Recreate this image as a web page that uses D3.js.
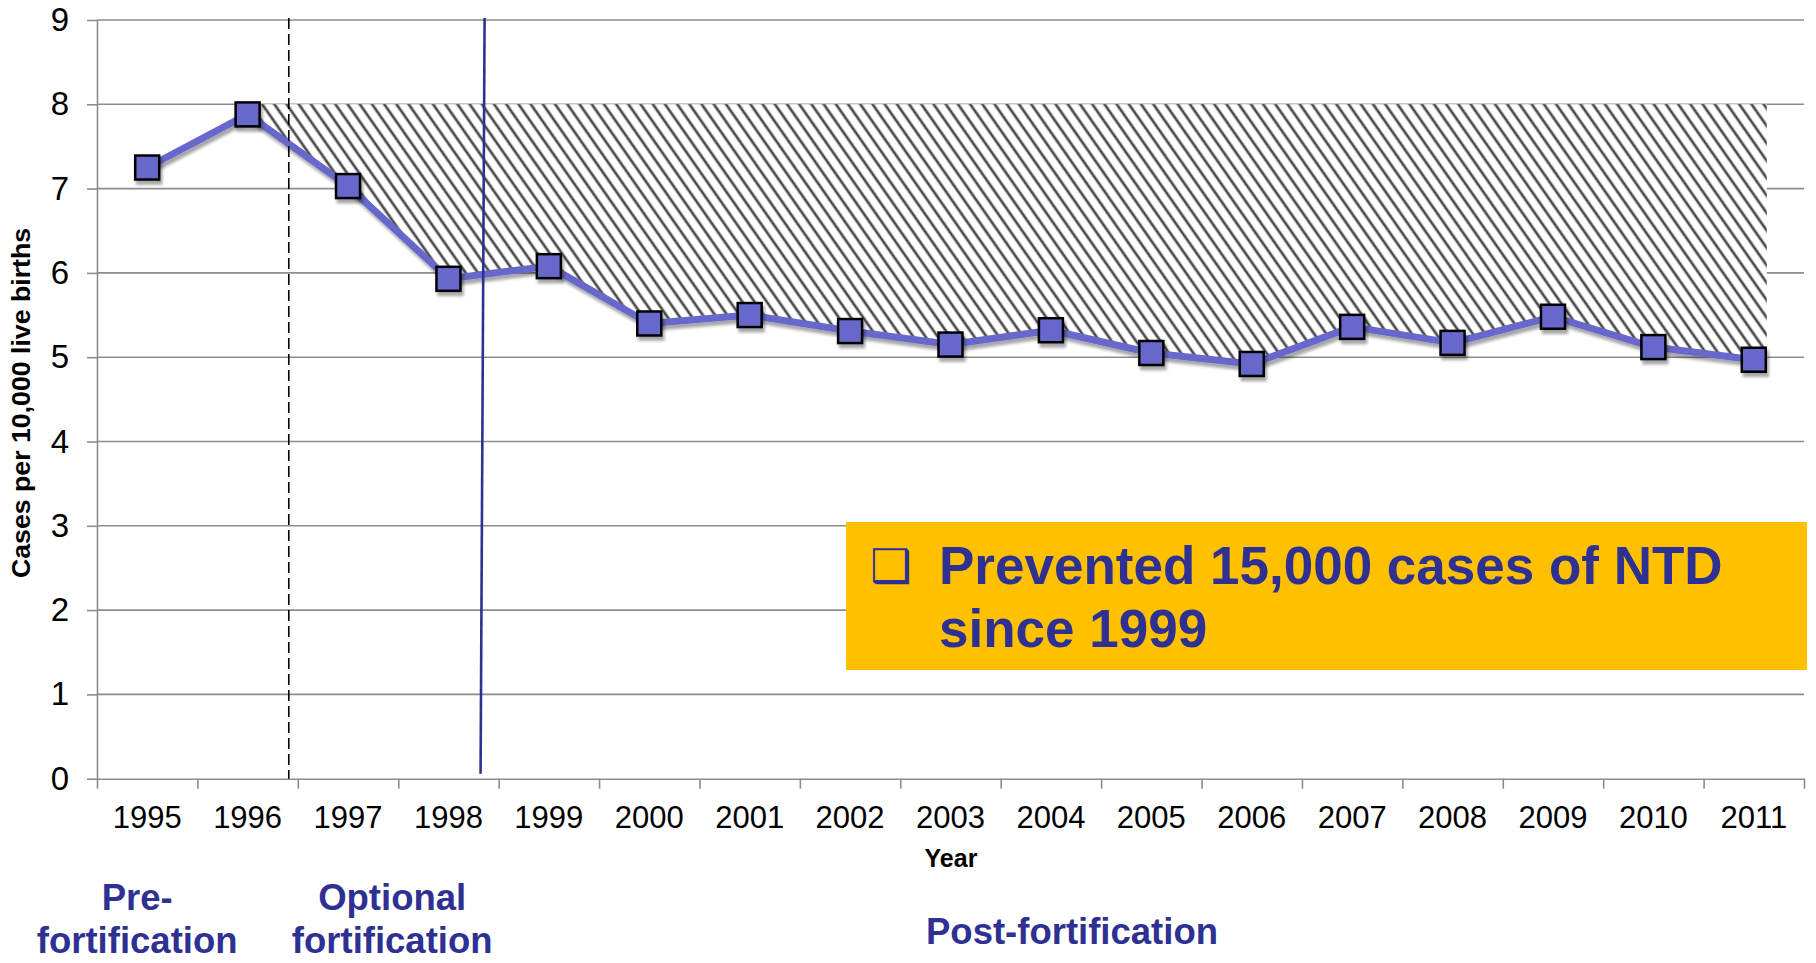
<!DOCTYPE html>
<html>
<head>
<meta charset="utf-8">
<script src="https://cdn.jsdelivr.net/npm/d3@7"></script>
<style>
  body { margin: 0; background: #fff; }
  svg { display: block; font-family: "Liberation Sans", Arial, sans-serif; }
</style>
</head>
<body>
<div id="chart"></div>
<script>
// data
var years = ["1995", "1996", "1997", "1998", "1999", "2000", "2001", "2002", "2003",
             "2004", "2005", "2006", "2007", "2008", "2009", "2010", "2011"];
var rates = [7.25, 7.88, 7.03, 5.93, 6.08, 5.40, 5.50, 5.31, 5.15,
             5.32, 5.05, 4.92, 5.36, 5.17, 5.48, 5.12, 4.97];
var yTicks = [0, 1, 2, 3, 4, 5, 6, 7, 8, 9];
var preventedLevel = 8;          // top of the hatched "prevented" band
var preventedFrom = "1996";      // band starts at this year
var phaseLabels = [["Pre-", "fortification"], ["Optional", "fortification"], ["Post-fortification"]];
var boxLines = ["Prevented 15,000 cases of NTD", "since 1999"];
var yTitle = "Cases per 10,000 live births";
var xTitle = "Year";

var width = 1816, height = 963;

// Style setting
var line_color = "#6868cc";
var dark_blue  = "#2e3192";
var grid_color = "#8c8c8c";
var box_color  = "#ffc000";
// Style setting

var plot = {left: 97, right: 1804, top: 20, bottom: 778.7};

var svg = d3.select("#chart").append("svg")
            .attr("width", width)
            .attr("height", height);

var defs = svg.append("defs");
var hatch = defs.append("pattern")
                .attr("id", "hatch")
                .attr("patternUnits", "userSpaceOnUse")
                .attr("width", 10)
                .attr("height", 10)
                .attr("patternTransform", "rotate(-35)");
hatch.append("rect").attr("width", 10).attr("height", 10).attr("fill", "#fff");
hatch.append("line")
     .attr("x1", 5).attr("y1", -1).attr("x2", 5).attr("y2", 11)
     .attr("stroke", "#4a4a4a").attr("stroke-width", 2.7);

defs.append("filter").attr("id", "shadow")
    .attr("x", "-10%").attr("y", "-10%").attr("width", "130%").attr("height", "140%")
    .append("feDropShadow")
    .attr("dx", 2).attr("dy", 4).attr("stdDeviation", 1.6)
    .attr("flood-color", "#000").attr("flood-opacity", 0.35);

var x = d3.scaleBand().domain(years).range([plot.left, plot.right]);
var xi = d3.scaleLinear().domain([0, years.length]).range([plot.left, plot.right]);
var y = d3.scaleLinear().domain([0, 9]).range([plot.bottom, plot.top]);
var cx = function(yr) { return x(yr) + x.bandwidth() / 2; };

var points = years.map(function(yr, i) { return {year: yr, v: rates[i]}; });

// gridlines
svg.append("g")
   .selectAll("line")
   .data(yTicks.filter(function(t) { return t > 0; }))
   .enter().append("line")
   .attr("x1", plot.left).attr("x2", plot.right)
   .attr("y1", function(d) { return y(d); })
   .attr("y2", function(d) { return y(d); })
   .attr("stroke", grid_color).attr("stroke-width", 1.6);

// y axis
var yAxis = svg.append("g")
   .attr("transform", "translate(" + plot.left + ",0)")
   .call(d3.axisLeft(y).tickValues(yTicks).tickSize(10).tickSizeOuter(0).tickPadding(18));
yAxis.select(".domain").attr("stroke", grid_color).attr("stroke-width", 1.6);
yAxis.selectAll(".tick line").attr("stroke", grid_color).attr("stroke-width", 1.6);
yAxis.selectAll("text").attr("font-size", 33).attr("fill", "#000")
     .attr("font-family", "Liberation Sans, Arial, sans-serif");

// x axis: ticks on category boundaries, labels in the middle
var xTickAxis = svg.append("g")
   .attr("transform", "translate(0," + plot.bottom + ")")
   .call(d3.axisBottom(xi).tickValues(d3.range(years.length + 1)).tickFormat("").tickSize(10).tickSizeOuter(0));
xTickAxis.select(".domain").attr("stroke", grid_color).attr("stroke-width", 1.6);
xTickAxis.selectAll(".tick line").attr("stroke", grid_color).attr("stroke-width", 1.6);

var xLabAxis = svg.append("g")
   .attr("transform", "translate(0," + plot.bottom + ")")
   .call(d3.axisBottom(x).tickSize(0).tickPadding(27));
xLabAxis.select(".domain").remove();
xLabAxis.selectAll("text").attr("font-size", 31).attr("fill", "#000")
        .attr("font-family", "Liberation Sans, Arial, sans-serif");

// axis titles
svg.append("text")
   .attr("transform", "translate(" + 30 + "," + 403 + ") rotate(-90)")
   .attr("text-anchor", "middle")
   .attr("font-size", 26.7).attr("font-weight", "bold")
   .text(yTitle);

svg.append("text")
   .attr("x", 951).attr("y", 867)
   .attr("text-anchor", "middle")
   .attr("font-size", 25).attr("font-weight", "bold")
   .text(xTitle);

// hatched "prevented" band between the level and the curve
var bandPts = points.slice(years.indexOf(preventedFrom));
var last = bandPts[bandPts.length - 1];
var area = d3.area()
   .x(function(d) { return d.px != null ? d.px : cx(d.year); })
   .y0(y(preventedLevel))
   .y1(function(d) { return y(d.v); });
svg.append("path")
   .datum(bandPts.concat([{year: last.year, v: last.v, px: cx(last.year) + 13}]))
   .attr("d", area)
   .attr("fill", "url(#hatch)");

// series line and markers
var line = d3.line()
   .x(function(d) { return cx(d.year); })
   .y(function(d) { return y(d.v); });
svg.append("path")
   .datum(points)
   .attr("d", line)
   .attr("fill", "none")
   .attr("stroke", line_color)
   .attr("stroke-width", 7)
   .attr("stroke-linejoin", "round")
   .attr("filter", "url(#shadow)");

svg.append("g")
   .selectAll("rect")
   .data(points)
   .enter().append("rect")
   .attr("x", function(d) { return cx(d.year) - 12; })
   .attr("y", function(d) { return y(d.v) - 12; })
   .attr("width", 24).attr("height", 24)
   .attr("fill", line_color)
   .attr("stroke", "#000").attr("stroke-width", 2.5)
   .attr("filter", "url(#shadow)");

// phase dividers (in category units)
svg.append("line")
   .attr("x1", xi(1.91)).attr("x2", xi(1.91))
   .attr("y1", y(9) - 2).attr("y2", y(0))
   .attr("stroke", "#000").attr("stroke-width", 1.6)
   .attr("stroke-dasharray", "11,5");
svg.append("line")
   .attr("x1", xi(3.86)).attr("x2", xi(3.82))
   .attr("y1", y(9) - 2).attr("y2", y(0) - 5)
   .attr("stroke", dark_blue).attr("stroke-width", 2.6);

// callout box
var box = svg.append("g").attr("transform", "translate(846,522)");
box.append("rect").attr("width", 961).attr("height", 148).attr("fill", box_color);
box.append("text")
   .attr("x", 24).attr("y", 60)
   .attr("font-family", "DejaVu Sans, sans-serif")
   .attr("font-size", 46).attr("fill", dark_blue)
   .text("\u2751");
box.selectAll("text.line")
   .data(boxLines)
   .enter().append("text")
   .attr("class", "line")
   .attr("x", 93)
   .attr("y", function(d, i) { return 62 + i * 63; })
   .attr("font-size", 53).attr("font-weight", "bold").attr("fill", dark_blue)
   .text(function(d) { return d; });

// phase labels under the axis
var phaseX = [xi(0.4), xi(2.94), xi(9.71)];
var phaseY = [[910, 953], [910, 953], [944]];
svg.append("g")
   .selectAll("text")
   .data(phaseLabels)
   .enter().append("text")
   .attr("text-anchor", "middle")
   .attr("font-size", 36.5).attr("font-weight", "bold").attr("fill", dark_blue)
   .each(function(d, i) {
     d3.select(this).selectAll("tspan")
       .data(d)
       .enter().append("tspan")
       .attr("x", phaseX[i])
       .attr("y", function(t, j) { return phaseY[i][j]; })
       .text(function(t) { return t; });
   });
</script>
</body>
</html>
